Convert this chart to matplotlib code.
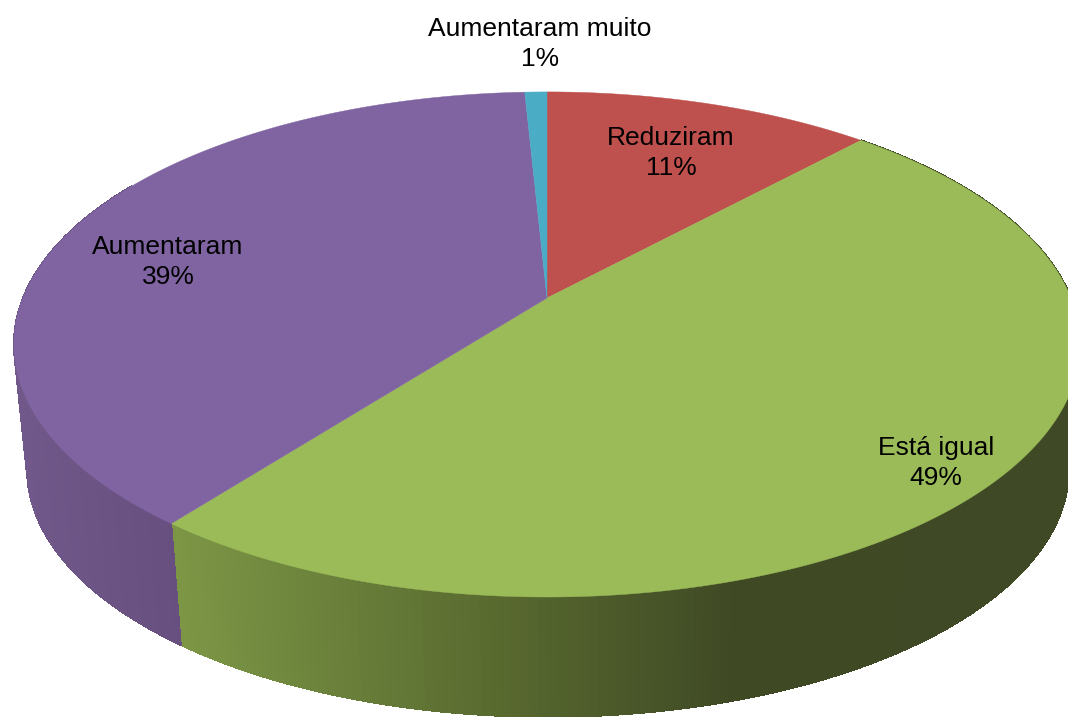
import numpy as np
import matplotlib
matplotlib.use("Agg")
import matplotlib.pyplot as plt

# Slices in drawing order, clockwise from the top of the pie
categories = ["Reduziram", "Está igual", "Aumentaram", "Aumentaram muito"]
slice_sizes = [11.9, 48.6, 38.7, 0.8]
pct_labels = ["11%", "49%", "39%", "1%"]
colors = ["#BE504D", "#9BBB59", "#8064A2", "#4BACC6"]

# Label centres in pixels
label_x = [671, 936, 168, 540]
label_y = [153, 463, 262, 44]

W, H = 1068, 717
PERSP = 0.184


def project(t, cx, cy, a, b):
    # t in radians, clockwise from the far side of the circle
    d = 1 + PERSP*np.cos(t)
    return cx + b*np.sin(t)/d, cy - a*np.cos(t)/d


def top(t):
    return project(t, 547, 298, 244, 524)


def bottom(t):
    return project(t, 548, 424, 239, 512)


def side_color(x, stops):
    xs = [s[0] for s in stops]
    rgb = [np.interp(x, xs, [matplotlib.colors.to_rgb(s[1])[i] for s in stops]) for i in range(3)]
    return rgb


fig = plt.figure(figsize=(W/100, H/100), dpi=100)
ax = fig.add_axes([0, 0, 1, 1])
ax.set_xlim(0, W)
ax.set_ylim(H, 0)
ax.axis("off")

edges = 2*np.pi*np.cumsum([0] + slice_sizes)/sum(slice_sizes)

# Side wall, only the green and purple slices show
green_stops = [(175, "#7C9645"), (500, "#58692F"), (730, "#3F4A25"), (1068, "#3F4925")]
purple_stops = [(15, "#70588A"), (175, "#67507F")]
for i, stops in [(1, green_stops), (2, purple_stops)]:
    ts = np.linspace(edges[i], min(edges[i+1], np.radians(300)), 200)
    for t0, t1 in zip(ts[:-1], ts[1:]):
        x0, y0 = top(t0)
        x1, y1 = top(t1)
        x2, y2 = bottom(t1)
        x3, y3 = bottom(t0)
        c = side_color((x0+x1)/2, stops)
        ax.fill([x0, x1, x2, x3], [y0, y1, y2, y3], color=c, lw=0.6, antialiased=False)

# Top faces
for i in range(len(slice_sizes)):
    ts = np.linspace(edges[i], edges[i+1], 200)
    xs, ys = top(ts)
    ax.fill(np.r_[547, xs], np.r_[298, ys], color=colors[i], lw=0.3)

for name, pct, x, y in zip(categories, pct_labels, label_x, label_y):
    ax.text(x, y, name + "\n" + pct, ha="center", va="center", fontsize=19,
            family="Liberation Sans", linespacing=1.32, color="black")

fig.savefig("out.png", dpi=100)
